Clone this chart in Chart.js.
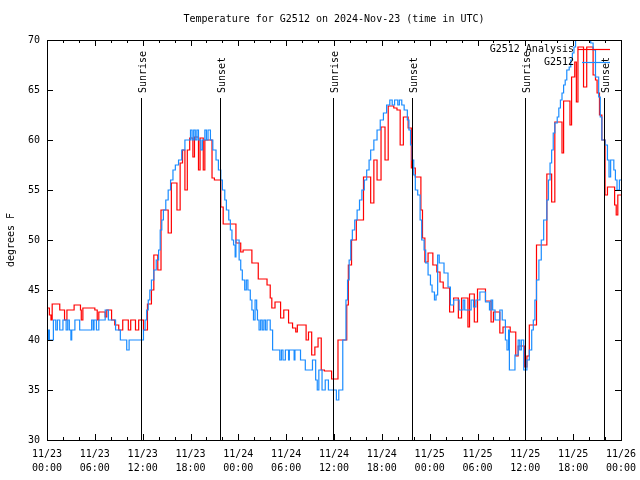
<!DOCTYPE html>
<html>
<head>
<meta charset="utf-8">
<script src="https://cdn.jsdelivr.net/npm/chart.js@4/dist/chart.umd.min.js"></script>
<style>
  html, body { margin: 0; padding: 0; background: #fff; }
  canvas { display: block; }
</style>
</head>
<body>
<canvas id="graph1" width="640" height="480"></canvas>
<script>
// hours since 11/23 00:00 UTC where the reading changes, and the reading (deg F)
let obsHours = [0, 0.2, 0.3, 0.8, 1.1, 1.3, 1.6, 2.0, 2.4, 2.6, 2.8, 3.0, 3.1, 3.5, 4.1, 5.6, 5.8, 5.9, 6.2, 6.5,
  7.3, 7.7, 8.6, 9.2, 10.0, 10.3, 12.1, 12.3, 12.5, 12.7, 12.9, 13.1, 13.4, 13.7, 14.0, 14.2, 14.4, 14.6, 14.9, 15.2,
  15.5, 15.8, 16.1, 16.5, 16.9, 17.3, 17.6, 18.0, 18.2, 18.4, 18.6, 18.8, 19.0, 19.3, 19.5, 19.8, 20.0, 20.2, 20.5, 20.8,
  21.2, 21.5, 21.8, 22.0, 22.3, 22.5, 22.8, 23.0, 23.2, 23.4, 23.6, 23.7, 24.1, 24.3, 24.5, 24.8, 25.0, 25.2, 25.5, 25.7,
  25.9, 26.1, 26.3, 26.4, 26.6, 26.8, 27.0, 27.2, 27.4, 27.6, 28.0, 28.3, 29.2, 29.4, 29.6, 29.9, 30.3, 30.4, 31.0, 31.1,
  31.8, 32.4, 33.3, 33.7, 33.9, 34.1, 34.5, 34.9, 35.3, 36.3, 36.6, 37.1, 37.5, 37.7, 37.9, 38.1, 38.3, 38.6, 38.9, 39.2,
  39.5, 39.8, 40.1, 40.4, 40.6, 41.0, 41.4, 41.8, 42.2, 42.6, 43.0, 43.3, 43.6, 44.0, 44.2, 44.5, 44.8, 45.2, 45.4, 45.6,
  45.8, 46.0, 46.2, 46.5, 46.8, 47.0, 47.3, 47.5, 47.8, 48.1, 48.3, 48.6, 48.8, 49.0, 49.2, 49.8, 50.3, 50.6, 51.0, 51.7,
  52.2, 52.4, 53.2, 53.5, 53.8, 54.3, 55.0, 55.5, 55.7, 55.9, 56.2, 56.8, 57.1, 57.5, 57.7, 57.9, 58.0, 58.7, 59.1, 59.3,
  59.5, 59.8, 60.2, 60.5, 60.8, 61.0, 61.2, 61.4, 61.7, 62.0, 62.3, 62.7, 62.9, 63.1, 63.3, 63.5, 63.7, 64.0, 64.2, 64.4,
  64.6, 64.8, 65.0, 65.2, 65.5, 65.7, 65.9, 66.1, 66.3, 66.9, 67.6, 68.2, 68.5, 68.8, 69.2, 69.4, 69.6, 70.0, 70.3, 70.5,
  70.7, 71.1, 71.3, 71.5, 71.8, 72];
let obsTemps = [40, 41, 40, 42, 41, 42, 41, 42, 41, 42, 41, 40, 41, 42, 41, 42, 41, 42, 41, 42,
  43, 42, 41, 40, 39, 40, 41, 42, 43, 44, 45, 46, 47, 48, 49, 51, 52, 53, 54, 55,
  56, 57, 57.5, 58, 59, 60, 60, 61, 60, 61, 60, 61, 60, 59, 60, 61, 60, 61, 60, 59,
  58, 57, 56, 55, 54, 53, 52, 51, 50, 49.5, 48.3, 50, 48, 47, 46, 45, 46, 45, 44, 43,
  42, 44, 43, 42, 41, 42, 41, 42, 41, 42, 41, 39, 38, 39, 38, 39, 38, 39, 38, 39,
  38, 37, 38, 36, 35, 37, 35, 36, 35, 34, 35, 40, 44, 46, 48, 50, 51, 52, 53, 54,
  55, 56, 57, 58, 59, 60, 61, 62, 62.7, 63.5, 64, 63.5, 64, 63.5, 64, 63.5, 63, 62, 61, 59.5,
  58, 56.5, 55, 54.5, 52, 50, 49, 47.7, 46.5, 45.5, 44.8, 44, 44.5, 48.5, 47.7, 46.7, 45.3, 43.5, 44, 43,
  44, 43, 44, 43.3, 44, 44.8, 43.8, 43, 44, 43, 42, 43, 42, 40, 39, 41, 37, 38.5, 40, 39,
  40, 37, 38, 39, 41, 42, 44, 46, 48, 50, 52, 54, 56, 57.7, 59, 60.7, 61.7, 62.3, 63.2, 64,
  64.7, 65.5, 66, 67, 67.3, 68, 68.7, 69.3, 70.5, 71, 70.5, 69.7, 69, 66.3, 64.3, 62.3, 60, 59.5, 58, 56.3,
  58, 57, 56, 55, 56, 56];

let anaHours = [0, 0.3, 0.5, 0.65, 1.6, 2.2, 2.5, 3.4, 4.2, 4.3, 4.5, 6.0, 6.3, 6.5, 7.3, 7.5, 8.1, 8.5, 9.0, 9.5,
  10.2, 10.5, 11.1, 11.5, 12.1, 12.6, 13.1, 13.4, 13.9, 14.3, 15.2, 15.6, 16.3, 16.7, 17.0, 17.3, 17.6, 17.9, 18.3, 18.5,
  19.0, 19.2, 19.6, 19.8, 20.7, 21.0, 21.8, 22.1, 23.7, 24.3, 24.6, 25.7, 26.5, 27.6, 28.0, 28.2, 28.6, 29.3, 29.7, 30.3,
  30.8, 31.2, 31.4, 32.5, 32.8, 33.2, 33.6, 34.0, 34.4, 34.8, 35.7, 36.5, 37.6, 37.8, 38.2, 38.8, 39.7, 40.6, 41.0, 41.4,
  41.9, 42.4, 42.8, 43.5, 43.9, 44.3, 44.7, 45.3, 45.7, 46.2, 46.9, 47.1, 47.4, 47.8, 48.4, 48.9, 49.3, 49.7, 50.5, 51.0,
  51.6, 52.0, 52.8, 53.0, 53.6, 54.0, 55.0, 55.7, 56.0, 56.8, 57.2, 58.1, 58.8, 59.1, 59.9, 60.2, 60.5, 61.4, 62.7, 63.3,
  63.7, 64.6, 64.8, 65.6, 65.8, 66.2, 66.4, 66.6, 67.3, 67.7, 68.5, 68.8, 69.0, 69.3, 69.6, 70.0, 70.3, 71.2, 71.4, 71.6, 72];
let anaTemps = [43.2, 42.5, 42, 43.6, 43, 42, 43, 43.5, 43, 42, 43.2, 43, 42, 42.8, 42.3, 43, 42, 41.5, 41, 42,
  41, 42, 41, 42, 41, 43.6, 45, 48.5, 47, 53, 50.7, 55.7, 53, 57.7, 59, 55, 59, 60.2, 58.3, 60.3,
  57, 60.2, 57, 60, 56.2, 56, 53.3, 51.6, 49.7, 48.8, 49, 47.7, 46.1, 45.5, 44.2, 43.2, 43.8, 42.2, 43, 41.7,
  41.2, 40.8, 41.5, 40, 40.8, 38.5, 39.3, 40.2, 37, 36.9, 36.1, 40, 43.5, 47.5, 50, 52, 56.3, 53.7, 58, 56,
  61.3, 58, 63.4, 63.2, 63, 59.5, 62.3, 61.2, 57.2, 56.3, 53, 50.2, 47.8, 48.7, 47.5, 46.8, 45.8, 45.2, 42.8, 44.2,
  42.2, 44.2, 41.3, 44.6, 41.8, 45.1, 43.9, 41.8, 42.8, 40.7, 41.3, 40.8, 38.4, 39.4, 37.3, 38.4, 41.5, 49.5, 56.6, 53.8,
  61.8, 58.7, 63.9, 61.5, 66.3, 67.8, 63.8, 69.3, 65.3, 69.3, 66.5, 66, 64.7, 62.5, 60, 54.5, 55.3, 53.5, 52.5, 54.5, 54.5];

let sunHours = [11.85, 21.7, 35.9, 45.8, 60.0, 69.9];
let sunNames = ['Sunrise', 'Sunset', 'Sunrise', 'Sunset', 'Sunrise', 'Sunset'];

let chartTitle = 'Temperature for G2512 on 2024-Nov-23 (time in UTC)';
let seriesNames = ['G2512 Analysis', 'G2512'];
let seriesColors = ['#ff0000', '#1a8cff'];

function toPoints(hours, temps) {
    let pts = [];
    hours.forEach((h, i) => pts.push({x: h, y: temps[i]}));
    return pts;
}

function pad(n) {
    return (n < 10 ? '0' : '') + n;
}

Chart.defaults.font.family = 'DejaVu Sans Mono';
Chart.defaults.font.size = 10;
Chart.defaults.color = '#000';

// title over the plot, frame, inward ticks, sunrise/sunset markers and gnuplot style key
const extras = {
    id: 'extras',
    afterDatasetsDraw(chart) {
        const c = chart.ctx;
        const a = chart.chartArea;
        const xs = chart.scales.x;
        const ys = chart.scales.y;
        c.save();
        c.strokeStyle = '#000';
        c.lineWidth = 1;
        c.font = '10px "DejaVu Sans Mono"';
        c.fillStyle = '#000';

        c.textAlign = 'center';
        c.textBaseline = 'middle';
        c.fillText(chartTitle, (a.left + a.right) / 2, 19);

        // sun lines
        sunHours.forEach((h, i) => {
            let px = Math.round(xs.getPixelForValue(h)) + 0.5;
            c.beginPath();
            c.moveTo(px, ys.getPixelForValue(64.2));
            c.lineTo(px, a.bottom);
            c.stroke();
            c.save();
            c.translate(px + 4, ys.getPixelForValue(64.7));
            c.rotate(-Math.PI / 2);
            c.textAlign = 'left';
            c.textBaseline = 'alphabetic';
            c.fillText(sunNames[i], 0, 0);
            c.restore();
        });

        // border
        c.strokeRect(Math.round(a.left) + 0.5, Math.round(a.top) + 0.5,
            Math.round(a.right - a.left), Math.round(a.bottom - a.top));

        // x ticks every 2h, major every 6h, top and bottom
        c.beginPath();
        for (let h = 0; h <= 72; h += 2) {
            let px = Math.round(xs.getPixelForValue(h)) + 0.5;
            let len = h % 6 == 0 ? 6 : 3;
            c.moveTo(px, a.bottom);
            c.lineTo(px, a.bottom - len);
            c.moveTo(px, a.top);
            c.lineTo(px, a.top + len);
        }
        // y ticks, left and right
        for (let v = 30; v <= 70; v += 5) {
            let py = Math.round(ys.getPixelForValue(v)) + 0.5;
            c.moveTo(a.left, py);
            c.lineTo(a.left + 6, py);
            c.moveTo(a.right, py);
            c.lineTo(a.right - 6, py);
        }
        c.stroke();

        // key
        c.textAlign = 'right';
        c.textBaseline = 'middle';
        seriesNames.forEach((name, i) => {
            let y = a.top + 9.5 + i * 13;
            c.fillStyle = '#000';
            c.fillText(name, a.right - 47, y);
            c.strokeStyle = seriesColors[i];
            c.lineWidth = 1.2;
            c.beginPath();
            c.moveTo(a.right - 43 + i * 4, y);
            c.lineTo(a.right - 11, y);
            c.stroke();
        });
        c.restore();
    }
};

const ctx = document.getElementById('graph1').getContext('2d');
let myChart = new Chart(ctx, {
    type: 'line',
    data: {
        datasets: [{
            label: seriesNames[0],
            data: toPoints(anaHours, anaTemps),
            borderColor: seriesColors[0],
            borderWidth: 1.2,
            pointRadius: 0,
            stepped: 'before',
            order: 2
        }, {
            label: seriesNames[1],
            data: toPoints(obsHours, obsTemps),
            borderColor: seriesColors[1],
            borderWidth: 1.2,
            pointRadius: 0,
            stepped: 'before',
            order: 1
        }]
    },
    options: {
        responsive: false,
        animation: false,
        layout: { padding: { top: 40, right: 19, bottom: 0, left: 0 } },
        plugins: {
            legend: { display: false },
            tooltip: { enabled: false },
            title: { display: false }
        },
        scales: {
            x: {
                type: 'linear',
                min: 0,
                max: 72,
                grid: { display: false, drawTicks: false },
                border: { display: false },
                ticks: {
                    stepSize: 6,
                    autoSkip: false,
                    maxRotation: 0,
                    minRotation: 0,
                    padding: 7,
                    font: { size: 10, lineHeight: '14px' },
                    callback: (v) => {
                        let day = 23 + Math.floor(v / 24);
                        return ['11/' + day, pad(v % 24) + ':00'];
                    }
                },
                afterFit: (scale) => {
                    scale.height = 40;
                    scale.paddingLeft = 0;
                    scale.paddingRight = 0;
                }
            },
            y: {
                min: 30,
                max: 70,
                grid: { display: false, drawTicks: false },
                border: { display: false },
                ticks: { stepSize: 5, padding: 7 },
                title: {
                    display: true,
                    text: 'degrees F',
                    font: { size: 10 },
                    padding: { top: 5, bottom: 0 }
                },
                afterFit: (scale) => {
                    scale.width = 47;
                    scale.paddingTop = 0;
                    scale.paddingBottom = 0;
                }
            }
        }
    },
    plugins: [extras]
});
</script>
</body>
</html>
